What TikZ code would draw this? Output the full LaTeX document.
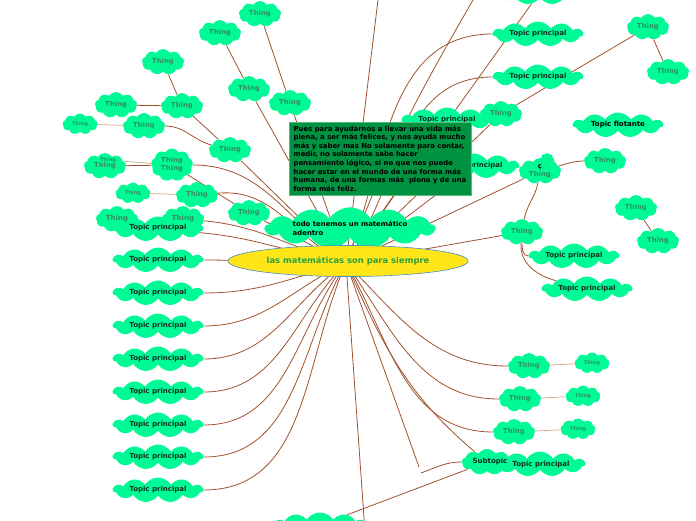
\documentclass[tikz,border=0pt]{standalone}
\usepackage{fontspec}
\setmainfont{DejaVu Sans}
\usetikzlibrary{shapes.symbols,shapes.geometric,backgrounds}

\definecolor{cloudgreen}{RGB}{0,250,150}
\definecolor{thingtext}{RGB}{50,140,100}
\definecolor{topictext}{RGB}{20,45,35}
\definecolor{branchbrown}{RGB}{160,82,45}
\definecolor{twigbrown}{RGB}{210,165,130}
\definecolor{notegreen}{RGB}{0,145,65}
\definecolor{noteedge}{RGB}{80,190,120}
\definecolor{mainyellow}{RGB}{255,230,25}
\definecolor{mainedge}{RGB}{70,140,200}
\definecolor{maintext}{RGB}{45,160,60}

\begin{document}
\begin{tikzpicture}[x=1pt,y=1pt,
    puff/.style={cloud, cloud puffs=9, cloud puff arc=115, cloud ignores aspect, fill=cloudgreen, inner sep=0pt},
    thing/.style={puff, minimum width=42pt, minimum height=26pt, text=thingtext, font=\bfseries\fontsize{6.8}{8}\selectfont},
    smallthing/.style={puff, minimum width=35pt, minimum height=21pt, text=thingtext, font=\bfseries\fontsize{5}{6}\selectfont},
    topic/.style={puff, cloud puffs=11, minimum width=90pt, minimum height=25pt, text=topictext, font=\bfseries\fontsize{7}{8}\selectfont},
    label/.style={inner sep=0pt, font=\bfseries\fontsize{7}{8}\selectfont},
    branch/.style={draw=branchbrown, line width=0.8pt},
    twig/.style={draw=twigbrown, line width=0.7pt}]
      % \draw[help lines, gray!50, very thin] (0,-520) grid[step=20] (696,0);
      \useasboundingbox (0,-520) rectangle (696,0);

      \coordinate (hub) at (346,-263);
      \coordinate (top1) at (378,0);
      \coordinate (top2) at (473,0);
      \coordinate (e1) at (419,-467);
      \coordinate (e2) at (421,-473);
      \coordinate (e4) at (365,-532);

      % left side
      \node[thing] (t1) at (260,-14) {Thing};
      \node[thing] (t2) at (220,-33) {Thing};
      \node[thing] (t3) at (163,-62) {Thing};
      \node[thing] (t5) at (249,-89) {Thing};
      \node[thing] (t4) at (290,-103) {Thing};
      \node[thing] (t6) at (116,-105) {Thing};
      \node[thing] (t7) at (182,-106) {Thing};
      \node[smallthing] (t8) at (80,-124) {Thing};
      \node[thing] (t9) at (144,-126) {Thing};
      \node[thing] (t10) at (230,-150) {Thing};
      \node[thing] (t12) at (105,-166) {Thing};
      \node[smallthing, fill=none] (t11) at (108,-160) {Thing};
      \node[thing, minimum height=33pt, align=center] (t13) at (172,-165) {Thing\\Thing};
      \node[smallthing] (t14) at (133,-193) {Thing};
      \node[thing] (t15) at (197,-195) {Thing};
      \node[thing] (t16) at (249,-213) {Thing};
      \node[thing] (t17) at (117,-219) {};
      \node[thing] (t18) at (183,-219) {};
      \node[topic] (tpL1) at (158,-229) {};
      \node[label, text=thingtext] (t17txt) at (117,-219) {Thing};
      \node[label, text=thingtext] (t18txt) at (183,-219) {Thing};
      \node[label, text=topictext] (tpL1txt) at (158,-228) {Topic principal};
      \foreach \i/\y in {2/260,3/293,4/326,5/359,6/392,7/425,8/457,9/490}
        \node[topic] (tpL\i) at (158,-\y) {Topic principal};

      % right side
      \node[topic] (tpR0) at (540,8) {};
      \node[topic] (tpR1) at (538,-34) {Topic principal};
      \node[topic] (tpR2) at (538,-77) {Topic principal};
      \node[thing] (tR3) at (648,-27) {Thing};
      \node[thing] (tR4) at (668,-72) {Thing};
      \node[topic] (tpR6) at (447,-120) {Topic principal};
      \node[thing] (tR5) at (501,-114) {Thing};
      \node[topic] (tpR7) at (474,-166) {Topic principal};
      \node[topic, text=black] (flot) at (618,-125) {Topic flotante};
      \node[puff, minimum width=15pt, minimum height=16pt] (cc) at (547,-161) {};
      \node[thing, align=center] (tR8) at (540,-171) {\textcolor{black}{ç}\\Thing};
      \node[thing] (tR9) at (605,-161) {Thing};
      \node[thing] (tR10) at (636,-208) {Thing};
      \node[thing] (tR11) at (658,-241) {Thing};
      \node[thing] (tR12) at (522,-232) {Thing};
      \node[topic] (tpR13) at (574,-256) {Topic principal};
      \node[topic] (tpR14) at (587,-289) {Topic principal};
      \node[thing] (tR15) at (529,-366) {Thing};
      \node[smallthing] (tR16) at (592,-363) {Thing};
      \node[thing] (tR17) at (520,-399) {Thing};
      \node[smallthing] (tR18) at (583,-396) {Thing};
      \node[thing] (tR19) at (514,-432) {Thing};
      \node[smallthing] (tR20) at (578,-429) {Thing};
      \node[thing, minimum width=50pt] (sub) at (487,-462) {};
      \node[topic] (tpR21) at (540,-464) {};
      \node[label, text=topictext] (subtxt) at (490,-462) {Subtopic};
      \node[label, text=topictext] (tpR21txt) at (541,-465) {Topic principal};
      \node[topic, minimum width=92pt] (bot) at (320,-525) {};

      % centre
      \node[puff, cloud puffs=13, minimum width=170pt, minimum height=38pt, align=left, font=\bfseries\fontsize{6.9}{9}\selectfont] (todo) at (350,-228) {todo tenemos un matemático\\adentro};
      \node[ellipse, fill=mainyellow, draw=mainedge, line width=0.6pt, minimum width=240pt, minimum height=31pt, text=maintext, font=\bfseries\fontsize{8.4}{10}\selectfont] (main) at (348,-261) {las matemáticas son para siempre};
      \node[rectangle, fill=notegreen, draw=noteedge, line width=0.8pt, minimum width=182pt, minimum height=73pt, align=left, font=\bfseries\fontsize{6.9}{8.6}\selectfont] (note) at (380,-158.5)
        {Pues para ayudarnos a llevar una vida más\\
         plena, a ser más felices, y nos ayuda mucho\\
         más y saber mas No solamente para contar,\\
         medir, no solamente sabe hacer\\
         pensamiento lógico, si no que nos puede\\
         hacer estar en el mundo de una forma más\\
         humana, de una formas más \ plena y de una\\
         forma más feliz.};

      \begin{scope}[on background layer]
        % left branches
        \draw[branch] (t1) -- (t4);
        \draw[branch] (t4) -- (hub);
        \draw[branch] (t2) -- (t5);
        \draw[branch] (t5) -- (hub);
        \draw[branch] (t3) -- (t7);
        \draw[branch] (t6) -- (t7);
        \draw[branch] (t7) -- (t10);
        \draw[twig] (t8) -- (t9);
        \draw[branch] (t9) to[out=0, in=165] (t10);
        \draw[branch] (t10) -- (hub);
        \draw[twig] (t11) -- (t13);
        \draw[branch] (t12) -- (t13);
        \draw[branch] (t13) to[out=0, in=145] (hub);
        \draw[branch] (t13) -- (t16);
        \draw[twig] (t14) -- (t15);
        \draw[branch] (t15) to[out=5, in=155] (hub);
        \draw[branch] (t16) -- (hub);
        \draw[branch] (t18) to[out=-5, in=165] (hub);
        \draw[branch] (tpL1) to[out=-5, in=170] (hub);
        \foreach \i/\a in {2/182,3/195,4/205,5/215,6/225,7/232,8/240,9/246}
          \draw[branch] (tpL\i) to[out=0, in=\a] (hub);

        % right branches
        \draw[branch] (hub) -- (top1);
        \draw[branch] (top2) to[out=240, in=70] (hub);
        \draw[branch] (tpR0) -- (hub);
        \draw[branch] (tpR1) to[out=180, in=68] (hub);
        \draw[branch] (tpR2) to[out=180, in=55] (hub);
        \draw[branch] (tR3) -- (tR4);
        \draw[branch] (tR3) -- (tR5);
        \draw[branch] (tR5) -- (hub);
        \draw[branch] (tpR6) -- (hub);
        \draw[branch] (tpR7) -- (hub);
        \draw[branch] (tR8) to[out=15, in=180] (tR9);
        \draw[branch] (tR8) -- (hub);
        \draw[branch] (tR8) to[out=-100, in=80] (tR12);
        \draw[branch] (tR10) -- (tR11);
        \draw[branch] (tR12) -- (hub);
        \draw[branch] (tR12) to[out=-90, in=180] (tpR13);
        \draw[branch] (tR12) to[out=-95, in=165] (tpR14);

        % lower branches
        \draw[branch] (hub) to[out=-45, in=180] (tR15);
        \draw[twig] (tR15) -- (tR16);
        \draw[branch] (hub) to[out=-55, in=180] (tR17);
        \draw[twig] (tR17) -- (tR18);
        \draw[branch] (hub) to[out=-60, in=180] (tR19);
        \draw[twig] (tR19) -- (tR20);
        \draw[branch] (hub) to[out=-66, in=140] (sub);
        \draw[branch] (hub) -- (e1);
        \draw[branch] (sub) to[out=180, in=20] (e2);
        \draw[branch] (sub) -- (bot);
        \draw[branch] (hub) -- (e4);
      \end{scope}
    \end{tikzpicture}
\end{document}
